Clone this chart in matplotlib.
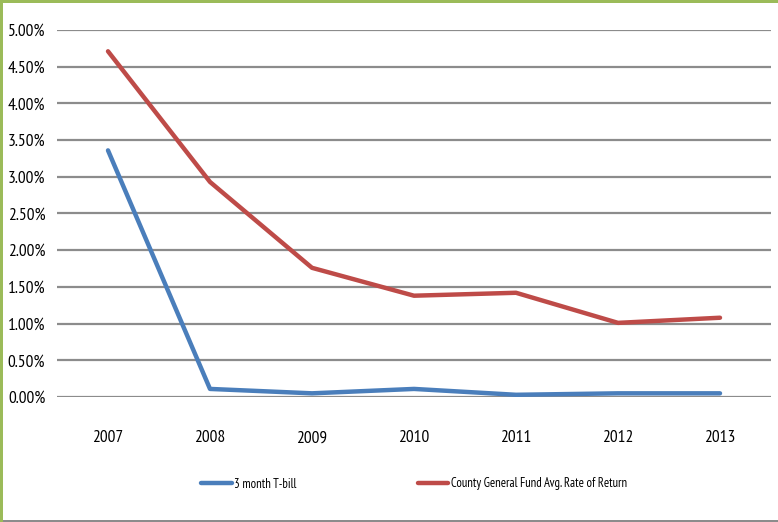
import matplotlib.pyplot as plt
from matplotlib.patches import Rectangle
from matplotlib.ticker import PercentFormatter

# Data (annual rates, as fractions)
years = ['2007', '2008', '2009', '2010', '2011', '2012', '2013']
tbill = [0.0336, 0.0011, 0.0005, 0.0011, 0.0003, 0.0005, 0.0005]
county = [0.0471, 0.0293, 0.0176, 0.0138, 0.0142, 0.0101, 0.0108]
y_ticks = [i * 0.005 for i in range(11)]

plt.rcParams['font.family'] = ['PT Sans Narrow', 'Carlito', 'DejaVu Sans']

fig = plt.figure(figsize=(7.78, 5.22), dpi=100)
ax = fig.add_axes([57 / 778, 1 - 397 / 522, (771 - 57) / 778, (397 - 30) / 522])

x = range(len(years))
ax.plot(x, tbill, color='#4A7EBB', lw=3.2, solid_capstyle='round',
        label='3 month T-bill', zorder=3)
ax.plot(x, county, color='#BE4B48', lw=3.2, solid_capstyle='round',
        label='County General Fund Avg. Rate of Return', zorder=3)

ax.set_xlim(-0.5, len(years) - 0.5)
ax.set_ylim(0, 0.05)
ax.set_xticks(list(x))
ax.set_xticklabels(years)
ax.set_yticks(y_ticks)
ax.yaxis.set_major_formatter(PercentFormatter(1.0, decimals=2))
ax.tick_params(length=0, labelsize=12.5, colors='black')
ax.tick_params(axis='x', pad=24)
ax.tick_params(axis='y', pad=8.5)
ax.grid(axis='y', color='#8C8C8C', lw=1.6)
ax.set_axisbelow(True)
for s in ax.spines.values():
    s.set_visible(False)

ax.legend(loc='center', bbox_to_anchor=(0.5, (397 - 484) / 367), ncol=2,
          frameon=False, fontsize=9.1, handlelength=2.4, handletextpad=0.2,
          columnspacing=9.6, borderaxespad=0)

# frame of the original screenshot
fig.add_artist(Rectangle((0, 0), 3 / 778, 1, transform=fig.transFigure,
                         color='#9BBB59', lw=0))
fig.add_artist(Rectangle((0, 1 - 3 / 522), 1, 3 / 522, transform=fig.transFigure,
                         color='#9BBB59', lw=0))
fig.add_artist(Rectangle((3 / 778, 0), 1, 2 / 522, transform=fig.transFigure,
                         color='#8C8C8C', lw=0))

fig.savefig('out.png', dpi=100)
